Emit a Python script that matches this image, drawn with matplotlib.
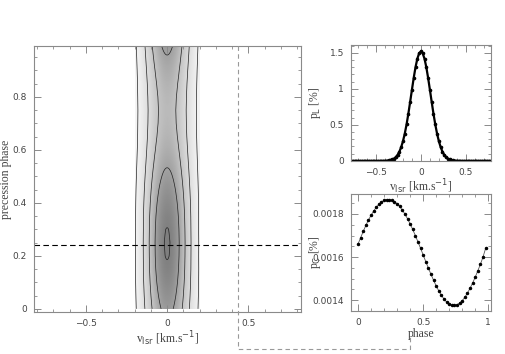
import numpy as np
import matplotlib
matplotlib.use("Agg")
import matplotlib.pyplot as plt
from matplotlib.lines import Line2D
from matplotlib.ticker import MultipleLocator

# line-profile model: central amplitude and width vs phase
phase_knots = [0.00, 0.05, 0.10, 0.15, 0.20, 0.25, 0.30, 0.35, 0.40, 0.45, 0.50,
               0.55, 0.60, 0.65, 0.70, 0.75, 0.80, 0.85, 0.90, 0.95, 1.00]
amp_knots = [1.268, 1.348, 1.419, 1.475, 1.510, 1.520, 1.505, 1.465, 1.406, 1.333, 1.252,
             1.172, 1.101, 1.045, 1.010, 1.000, 1.015, 1.055, 1.114, 1.187, 1.268]
width_knots = [0.112, 0.111, 0.110, 0.109, 0.108, 0.108, 0.108, 0.109, 0.110, 0.111, 0.112,
               0.113, 0.114, 0.115, 0.116, 0.116, 0.116, 0.115, 0.114, 0.113, 0.112]
contour_levels = [0.3, 0.6, 0.9, 1.2, 1.5]
cut_phase = 0.24

# p_L profile at the cut phase
v_prof = np.round(np.arange(-0.8, 0.801, 0.02), 2)
pL_prof = [0, 0, 0, 0, 0, 0, 0, 0, 0, 0, 0, 0, 0, 0, 0, 0, 0, 0, 0,
           0.001, 0.002, 0.003, 0.006, 0.011, 0.019, 0.032, 0.053, 0.084, 0.129, 0.191,
           0.274, 0.379, 0.507, 0.656, 0.820, 0.990, 1.155, 1.303, 1.419, 1.494,
           1.520,
           1.494, 1.419, 1.303, 1.155, 0.990, 0.820, 0.656, 0.507, 0.379, 0.274,
           0.191, 0.129, 0.084, 0.053, 0.032, 0.019, 0.011, 0.006, 0.003, 0.002, 0.001,
           0, 0, 0, 0, 0, 0, 0, 0, 0, 0, 0, 0, 0, 0, 0, 0, 0, 0, 0]

# p_C vs phase (units of 1e-6)
phase_c = np.round(np.arange(0, 0.99, 0.02), 2)
pC_e6 = [1660, 1690, 1719, 1747, 1772, 1794, 1814, 1831, 1845, 1856,
         1863, 1867, 1867, 1864, 1857, 1848, 1835, 1818, 1800, 1778,
         1754, 1728, 1700, 1671, 1641, 1610, 1579, 1549, 1520, 1492,
         1466, 1443, 1422, 1405, 1391, 1382, 1376, 1375, 1378, 1386,
         1397, 1412, 1432, 1454, 1479, 1506, 1536, 1566, 1600, 1640]
pC = np.array(pC_e6) * 1e-6

txt = "#444444"
edge = "#8a8a8a"
plt.rcParams["font.family"] = ["DejaVu Sans"]
plt.rcParams["font.size"] = 6.5
plt.rcParams["axes.edgecolor"] = edge
plt.rcParams["xtick.color"] = edge
plt.rcParams["ytick.color"] = edge
plt.rcParams["xtick.labelcolor"] = txt
plt.rcParams["ytick.labelcolor"] = txt
plt.rcParams["axes.linewidth"] = 0.8

lab = dict(family="Liberation Serif", fontsize=8.5, color=txt)


def style(ax, xmaj, xmin, ymaj, ymin):
    ax.xaxis.set_major_locator(MultipleLocator(xmaj))
    ax.xaxis.set_minor_locator(MultipleLocator(xmin))
    ax.yaxis.set_major_locator(MultipleLocator(ymaj))
    ax.yaxis.set_minor_locator(MultipleLocator(ymin))
    ax.tick_params(which="both", direction="in", top=True, right=True, pad=5)
    ax.tick_params(which="major", length=5, width=0.7)
    ax.tick_params(which="minor", length=2.5, width=0.6)


fig = plt.figure(figsize=(5.06, 3.54), dpi=100)

# main map
ax = fig.add_axes([0.0672, 0.1186, 0.5278, 0.7514])
v = np.linspace(-0.2, 0.2, 161)
ph = np.linspace(0, 0.99, 200)
A = np.interp(ph, phase_knots, amp_knots)
S = np.interp(ph, phase_knots, width_knots)
Z = A[:, None] * np.exp(-v[None, :] ** 2 / (2 * S[:, None] ** 2))
ax.imshow(Z, extent=[-0.2, 0.2, 0, 0.99], origin="lower", aspect="auto",
          cmap="Greys", vmin=0, vmax=2.6, interpolation="bilinear")
ax.contour(v, ph, Z, levels=contour_levels, colors="#222222", linewidths=0.5)
ax.axhline(cut_phase, color="black", lw=0.8, ls=(0, (5, 3)))
ax.set_xlim(-0.82, 0.825)
ax.set_ylim(-0.012, 0.992)
style(ax, 0.5, 0.1, 0.2, 0.05)
ax.set_xticks([-0.5, 0, 0.5])
ax.set_xticklabels(["\u22120.5", "0", "0.5"])
ax.set_yticks([0, 0.2, 0.4, 0.6, 0.8])
ax.set_yticklabels(["0", "0.2", "0.4", "0.6", "0.8"])
ax.set_xlabel(r"v$_{\rm lsr}$ [km.s$^{-1}$]", labelpad=1, **lab)
ax.set_ylabel("precession phase", **lab)
ax.yaxis.set_label_coords(-0.082, 0.5)

# p_L profile
ax2 = fig.add_axes([0.6937, 0.545, 0.2763, 0.328])
ax2.plot(v_prof, pL_prof, color="black", lw=1.6, marker="o", ms=1.6)
ax2.set_xlim(-0.78, 0.78)
ax2.set_ylim(-0.003, 1.61)
style(ax2, 0.5, 0.1, 0.5, 0.1)
ax2.set_xticks([-0.5, 0, 0.5])
ax2.set_xticklabels(["\u22120.5", "0", "0.5"])
ax2.set_yticks([0, 0.5, 1, 1.5])
ax2.set_yticklabels(["0", "0.5", "1", "1.5"])
ax2.set_xlabel(r"v$_{\rm lsr}$ [km.s$^{-1}$]", labelpad=0, **lab)
ax2.set_ylabel(r"p$_{\rm L}$ [%]", **lab)
ax2.yaxis.set_label_coords(-0.2, 0.5)

# p_C vs phase
ax3 = fig.add_axes([0.6937, 0.1215, 0.2763, 0.3305])
ax3.plot(phase_c, pC, color="#555555", lw=0.6, marker="o", ms=1.5,
         mfc="black", mec="black")
ax3.set_xlim(-0.054, 1.02)
ax3.set_ylim(0.001349, 0.001893)
style(ax3, 0.5, 0.1, 0.0002, 0.00005)
ax3.set_xticks([0, 0.5, 1])
ax3.set_xticklabels(["0", "0.5", "1"])
ax3.set_yticks([0.0014, 0.0016, 0.0018])
ax3.set_yticklabels(["0.0014", "0.0016", "0.0018"])
ax3.set_xlabel("phase", labelpad=1, **lab)
ax3.set_ylabel(r"p$_{\rm C}$ [%]", **lab)
ax3.yaxis.set_label_coords(-0.2, 0.5)

# grey dashed connector
fig.add_artist(Line2D([0.470, 0.470, 0.810, 0.810], [0.870, 0.0141, 0.0141, 0.048],
                      transform=fig.transFigure, color="#999999", lw=0.8,
                      ls=(0, (4, 3))))

fig.savefig("out.png", dpi=100)
